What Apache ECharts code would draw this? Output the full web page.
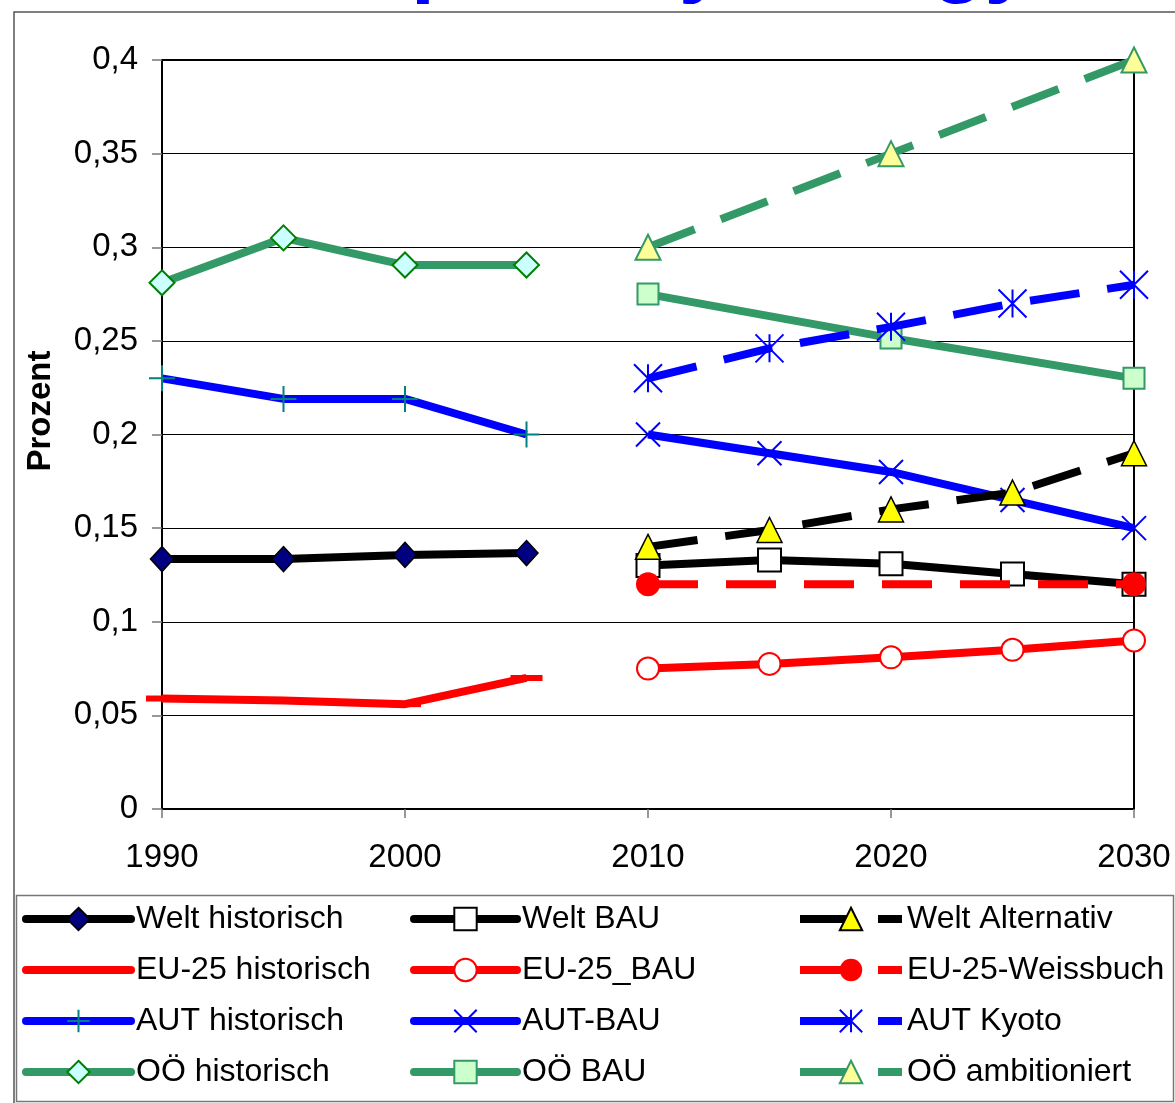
<!DOCTYPE html>
<html>
<head>
<meta charset="utf-8">
<script src="https://cdn.jsdelivr.net/npm/echarts@6/dist/echarts.min.js"></script>
<style>
html,body{margin:0;padding:0;background:#fff;}
#chart{width:1175px;height:1103px;}
</style>
</head>
<body>
<div id="chart"></div>
<script>
// ---- data ----
var yearsHist = [1990, 1995, 2000, 2005];
var yearsProj = [2010, 2015, 2020, 2025, 2030];
var yearsOOe = [2010, 2020, 2030];
var yearsWeiss = [2010, 2030];

var weltHist = [0.1335, 0.1335, 0.1357, 0.1367];
var weltBAU = [0.130, 0.133, 0.131, 0.1255, 0.120];
var weltAlt = [0.140, 0.149, 0.160, 0.169, 0.190];
var euHist = [0.059, 0.058, 0.056, 0.070];
var euBAU = [0.075, 0.0775, 0.081, 0.085, 0.090];
var euWeiss = [0.120, 0.120];
var autHist = [0.230, 0.219, 0.219, 0.200];
var autBAU = [0.200, 0.190, 0.180, 0.165, 0.150];
var autKyoto = [0.230, 0.246, 0.2575, 0.270, 0.280];
var ooeHist = [0.281, 0.305, 0.2905, 0.2905];
var ooeBAU = [0.275, 0.2515, 0.230];
var ooeAmb = [0.300, 0.350, 0.400];

var xTickLabels = ['1990', '2000', '2010', '2020', '2030'];
var yTickLabels = ['0', '0,05', '0,1', '0,15', '0,2', '0,25', '0,3', '0,35', '0,4'];

var legendCol1 = ['Welt historisch', 'EU-25 historisch', 'AUT historisch', 'OÖ historisch'];
var legendCol2 = ['Welt BAU', 'EU-25_BAU', 'AUT-BAU', 'OÖ BAU'];
var legendCol3 = ['Welt Alternativ', 'EU-25-Weissbuch', 'AUT Kyoto', 'OÖ ambitioniert'];

function pairs(xs, ys) { return xs.map(function (x, i) { return [x, ys[i]]; }); }

var FONT = 'Liberation Sans, Arial, sans-serif';
var DASH = [50, 28];
var PLUS = 'path://M0,10L20,10M10,0L10,20';
var CROSS = 'path://M0,0L20,20M20,0L0,20';
var STAR = 'path://M0,0L20,20M20,0L0,20M10,0L10,20';
var BAR = 'path://M0,0L32,0L32,6L0,6Z';

function line(name, data, color, opts) {
  return {
    name: name, type: 'line', data: data,
    symbol: opts.symbol, symbolSize: opts.size,
    showAllSymbol: true,
    lineStyle: { color: color, width: opts.width || 8, type: opts.dash ? DASH : 'solid' },
    itemStyle: { color: opts.fill, borderColor: opts.border, borderWidth: opts.bw == null ? 1.5 : opts.bw, opacity: 1 },
    emphasis: { disabled: true },
    z: opts.z || 2
  };
}

var series = [
  line('Welt historisch', pairs(yearsHist, weltHist), '#000000', { symbol: 'diamond', size: [23, 25], fill: '#000080', border: '#000000' }),
  line('EU-25 historisch', pairs(yearsHist, euHist), '#FF0000', { symbol: BAR, size: [32, 6], fill: '#FF0000', border: '#FF0000', bw: 0 }),
  line('AUT historisch', pairs(yearsHist, autHist), '#0000FF', { symbol: PLUS, size: 26, fill: '#008080', border: '#008080', bw: 2 }),
  line('OÖ historisch', pairs(yearsHist, ooeHist), '#339966', { symbol: 'diamond', size: [25, 25], fill: '#CCFFFF', border: '#008000', bw: 2 }),
  line('Welt BAU', pairs(yearsProj, weltBAU), '#000000', { symbol: 'rect', size: 23, fill: '#FFFFFF', border: '#000000', bw: 2 }),
  line('EU-25_BAU', pairs(yearsProj, euBAU), '#FF0000', { symbol: 'emptyCircle', size: 22, fill: '#FF0000', border: '#FF0000', bw: 1.5 }),
  line('AUT-BAU', pairs(yearsProj, autBAU), '#0000FF', { symbol: CROSS, size: 24, fill: '#0000FF', border: '#0000FF', bw: 2 }),
  line('OÖ BAU', pairs(yearsOOe, ooeBAU), '#339966', { symbol: 'rect', size: 21, fill: '#CCFFCC', border: '#339966', bw: 2 }),
  line('Welt Alternativ', pairs(yearsProj, weltAlt), '#000000', { symbol: 'triangle', size: [25, 25], fill: '#FFFF00', border: '#000000', bw: 1.5, dash: true, z: 3 }),
  line('EU-25-Weissbuch', pairs(yearsWeiss, euWeiss), '#FF0000', { symbol: 'circle', size: 24, fill: '#FF0000', border: '#FF0000', bw: 0, dash: true, z: 3 }),
  line('AUT Kyoto', pairs(yearsProj, autKyoto), '#0000FF', { symbol: STAR, size: 28, fill: '#0000FF', border: '#0000FF', bw: 2, dash: true, z: 3 }),
  line('OÖ ambitioniert', pairs(yearsOOe, ooeAmb), '#339966', { symbol: 'triangle', size: [25, 25], fill: '#FFFF99', border: '#339966', bw: 2, dash: true, z: 3 })
];

function legend(names, left, iw, round) {
  var ls = { width: 8 };
  if (round) ls.cap = 'round';
  var data = names.map(function (n) {
    return n === 'EU-25 historisch' ? { name: n, itemStyle: { opacity: 0 } } : n;
  });
  return {
    data: data, orient: 'vertical', left: left, top: 903,
    itemWidth: iw, itemHeight: 28, itemGap: 19,
    selectedMode: false,
    lineStyle: ls,
    textStyle: { fontSize: 32, color: '#000', fontFamily: FONT },
    padding: 0
  };
}

var chart = echarts.init(document.getElementById('chart'), null, { renderer: 'canvas' });
chart.setOption({
  animation: false,
  backgroundColor: '#fff',
  title: {
    text: 'primary energy', left: 406, top: -86,
    textStyle: { fontSize: 86, fontWeight: 'bold', color: '#0000FF', fontFamily: FONT }
  },
  graphic: [
    { type: 'rect', shape: { x: 14, y: 12, width: 1175, height: 1100 }, style: { fill: 'none', stroke: '#555', lineWidth: 1.5 }, z: -1 },
    { type: 'rect', shape: { x: 16.5, y: 895.5, width: 1157, height: 206 }, style: { fill: 'none', stroke: '#777', lineWidth: 1.5 }, z: -1 },
    { type: 'text', x: 41, y: 411, rotation: Math.PI / 2,
      style: { text: 'Prozent', align: 'center', verticalAlign: 'middle', fill: '#000', font: 'bold 33px Liberation Sans, Arial, sans-serif' } }
  ],
  legend: [legend(legendCol1, 22, 105, true), legend(legendCol2, 410, 103, true), legend(legendCol3, 796, 102, false)],
  grid: { left: 162, right: 41, top: 60, bottom: 294, show: true, borderColor: '#000', borderWidth: 2, containLabel: false },
  xAxis: {
    type: 'value', min: 1990, max: 2030, interval: 10,
    axisLine: { lineStyle: { color: '#000', width: 2 } },
    axisTick: { show: true, inside: false, length: 9, lineStyle: { color: '#777', width: 1.5 } },
    axisLabel: { margin: 32, fontSize: 33, color: '#000', fontFamily: FONT,
      formatter: function (v) { return xTickLabels[Math.round((v - 1990) / 10)]; } },
    splitLine: { show: false }
  },
  yAxis: {
    type: 'value', min: 0, max: 0.4, interval: 0.05,
    axisLine: { show: true, lineStyle: { color: '#000', width: 2 } },
    axisTick: { show: true, inside: false, length: 10, lineStyle: { color: '#777', width: 1.5 } },
    axisLabel: { margin: 24, fontSize: 33, color: '#000', fontFamily: FONT,
      formatter: function (v) { return yTickLabels[Math.round(v / 0.05)]; } },
    splitLine: { show: true, lineStyle: { color: '#000', width: 1 } }
  },
  series: series
});
</script>
</body>
</html>
